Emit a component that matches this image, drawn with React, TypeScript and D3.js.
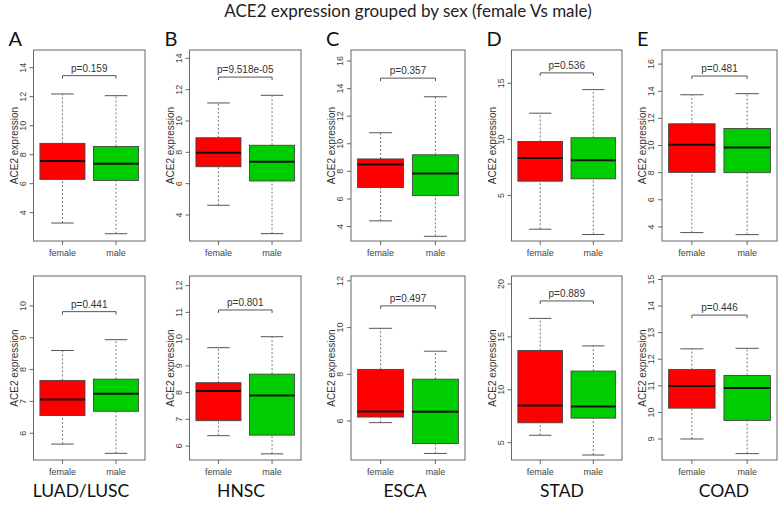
import React from "react";
import * as d3 from "d3";

const title = "ACE2 expression grouped by sex (female Vs male)";
const letters = ["A", "B", "C", "D", "E"];
const cancers = ["LUAD/LUSC", "HNSC", "ESCA", "STAD", "COAD"];
const groups = ["female", "male"];

// p-values
const topPValues = ["0.159", "9.518e-05", "0.357", "0.536", "0.481"];
const bottomPValues = ["0.441", "0.801", "0.497", "0.889", "0.446"];

// box stats: [min, q1, median, q3, max]
const topFemale = [
  [3.29, 6.3, 7.57, 8.78, 12.19],
  [4.62, 7.08, 7.98, 8.93, 11.15],
  [4.41, 6.83, 8.49, 8.9, 10.8],
  [2.0, 6.28, 8.35, 9.82, 12.34],
  [3.58, 8.02, 10.05, 11.6, 13.74],
];
const topMale = [
  [2.55, 6.23, 7.38, 8.57, 12.07],
  [2.81, 6.17, 7.4, 8.45, 11.64],
  [3.29, 6.24, 7.85, 9.2, 13.41],
  [1.53, 6.49, 8.14, 10.15, 14.44],
  [3.43, 8.0, 9.85, 11.25, 13.82],
];
const bottomFemale = [
  [5.66, 6.56, 7.06, 7.66, 8.6],
  [6.39, 6.95, 8.06, 8.37, 9.68],
  [5.93, 6.17, 6.41, 8.21, 9.97],
  [5.7, 6.88, 8.52, 13.71, 16.75],
  [9.0, 10.16, 10.99, 11.61, 12.39],
];
const bottomMale = [
  [5.37, 6.69, 7.24, 7.7, 8.94],
  [5.71, 6.41, 7.89, 8.69, 10.09],
  [4.61, 5.04, 6.4, 7.79, 8.99],
  [3.83, 7.32, 8.42, 11.77, 14.15],
  [8.45, 9.7, 10.92, 11.39, 12.41],
];

// y axis domains and ticks
const topDomains = [
  [2.05, 15.22],
  [2.34, 14.53],
  [2.95, 16.8],
  [0.95, 17.97],
  [2.96, 17.04],
];
const bottomDomains = [
  [5.16, 10.94],
  [5.48, 12.36],
  [4.33, 12.21],
  [3.36, 20.76],
  [8.21, 15.13],
];
const topTicks = [
  [4, 6, 8, 10, 12, 14],
  [4, 6, 8, 10, 12, 14],
  [4, 6, 8, 10, 12, 14, 16],
  [5, 10, 15],
  [4, 6, 8, 10, 12, 14, 16],
];
const bottomTicks = [
  [6, 7, 8, 9, 10],
  [6, 7, 8, 9, 10, 11, 12],
  [6, 8, 10, 12],
  [5, 10, 15, 20],
  [9, 10, 11, 12, 13, 14, 15],
];
// bracket heights (data units)
const topBrackets = [13.45, 12.8, 14.76, 15.93, 15.12];
const bottomBrackets = [9.82, 11.09, 10.93, 18.4, 13.66];

const colors = ["#ff0000", "#00cd00"];

// layout
const W = 779;
const H = 507;
const panelX = [
  [33.5, 145],
  [189.5, 301],
  [351, 465],
  [511.5, 622],
  [662, 777],
];
const rowY = [
  [50, 241],
  [276, 460],
];
const cancerLabelX = [81, 241, 405, 562, 724];

const rFont = "'Liberation Sans', Arial, sans-serif";
const cFont = "Lato, 'Open Sans', sans-serif";

function Panel({ x0, x1, y0, y1, domain, ticks, female, male, bracket, p }: any) {
  const y = d3.scaleLinear().domain(domain).range([y1, y0]);
  const x = d3.scaleLinear().domain([0.46, 2.54]).range([x0, x1]);
  const unit = x(2) - x(1);
  const boxW = unit * 0.84;
  const capW = boxW * 0.5;
  const stats = [female, male];
  const frame = "#666";
  return (
    <g>
      {stats.map((s: number[], i: number) => {
        const cx = x(i + 1);
        return (
          <g key={i}>
            <line x1={cx} x2={cx} y1={y(s[0])} y2={y(s[1])} stroke="#666" strokeDasharray="2,2" strokeWidth={0.9} />
            <line x1={cx} x2={cx} y1={y(s[3])} y2={y(s[4])} stroke="#666" strokeDasharray="2,2" strokeWidth={0.9} />
            <line x1={cx - capW / 2} x2={cx + capW / 2} y1={y(s[0])} y2={y(s[0])} stroke="#555" strokeWidth={1} />
            <line x1={cx - capW / 2} x2={cx + capW / 2} y1={y(s[4])} y2={y(s[4])} stroke="#555" strokeWidth={1} />
            <rect x={cx - boxW / 2} y={y(s[3])} width={boxW} height={y(s[1]) - y(s[3])} fill={colors[i]} stroke="#444" strokeWidth={0.9} />
            <line x1={cx - boxW / 2} x2={cx + boxW / 2} y1={y(s[2])} y2={y(s[2])} stroke="#111" strokeWidth={2} />
          </g>
        );
      })}
      <rect x={x0} y={y0} width={x1 - x0} height={y1 - y0} fill="none" stroke={frame} strokeWidth={1} />
      {ticks.map((t: number) => (
        <g key={t}>
          <line x1={x0 - 4} x2={x0} y1={y(t)} y2={y(t)} stroke={frame} strokeWidth={1} />
          <text
            transform={`translate(${x0 - 8},${y(t)}) rotate(-90)`}
            textAnchor="middle"
            fontFamily={rFont}
            fontSize={9}
            fill="#444"
          >
            {t}
          </text>
        </g>
      ))}
      <text
        transform={`translate(${x0 - 16},${(y0 + y1) / 2}) rotate(-90)`}
        textAnchor="middle"
        fontFamily={rFont}
        fontSize={10}
        fill="#333"
      >
        ACE2 expression
      </text>
      {groups.map((g, i) => (
        <g key={g}>
          <line x1={x(i + 1)} x2={x(i + 1)} y1={y1} y2={y1 + 4} stroke={frame} strokeWidth={1} />
          <text x={x(i + 1)} y={y1 + 15} textAnchor="middle" fontFamily={rFont} fontSize={9} fill="#444">
            {g}
          </text>
        </g>
      ))}
      <path
        d={`M${x(1)},${y(bracket) + 3}V${y(bracket)}H${x(2)}V${y(bracket) + 3}`}
        fill="none"
        stroke="#555"
        strokeWidth={1}
      />
      <text x={(x(1) + x(2)) / 2} y={y(bracket) - 4} textAnchor="middle" fontFamily={rFont} fontSize={10} fill="#333">
        {"p=" + p}
      </text>
    </g>
  );
}

export default function App() {
  return (
    <svg width={W} height={H} style={{ position: "absolute", left: 0, top: 0, background: "#fff" }}>
      <rect width={W} height={H} fill="#fff" />
      <text x={408} y={17} textAnchor="middle" fontFamily={cFont} fontSize={17} fill="#222">
        {title}
      </text>
      {letters.map((l, i) => (
        <text key={l} x={panelX[i][0] - 25} y={46} fontFamily={cFont} fontSize={20} fill="#111">
          {l}
        </text>
      ))}
      {cancers.map((c, i) => (
        <text key={c} x={cancerLabelX[i]} y={497} textAnchor="middle" fontFamily={cFont} fontSize={17.5} fill="#111">
          {c}
        </text>
      ))}
      {letters.map((l, i) => (
        <Panel
          key={"t" + l}
          x0={panelX[i][0]}
          x1={panelX[i][1]}
          y0={rowY[0][0]}
          y1={rowY[0][1]}
          domain={topDomains[i]}
          ticks={topTicks[i]}
          female={topFemale[i]}
          male={topMale[i]}
          bracket={topBrackets[i]}
          p={topPValues[i]}
        />
      ))}
      {letters.map((l, i) => (
        <Panel
          key={"b" + l}
          x0={panelX[i][0]}
          x1={panelX[i][1]}
          y0={rowY[1][0]}
          y1={rowY[1][1]}
          domain={bottomDomains[i]}
          ticks={bottomTicks[i]}
          female={bottomFemale[i]}
          male={bottomMale[i]}
          bracket={bottomBrackets[i]}
          p={bottomPValues[i]}
        />
      ))}
    </svg>
  );
}
